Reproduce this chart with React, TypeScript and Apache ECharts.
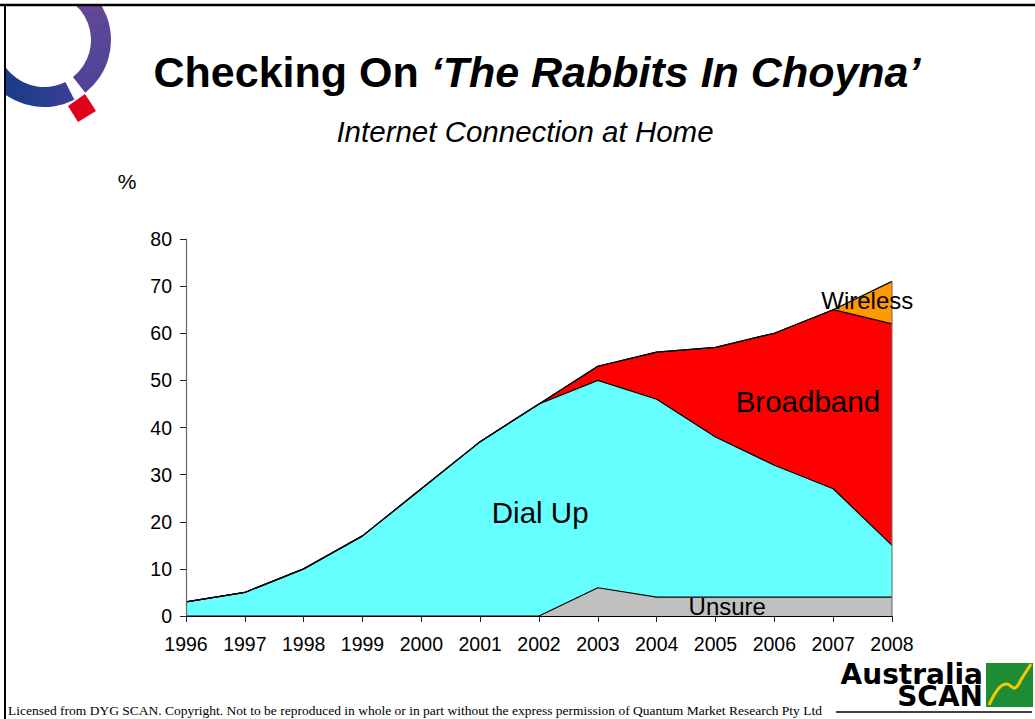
import React, { useEffect, useRef } from "react";
import * as echarts from "echarts";

const years = ["1996", "1997", "1998", "1999", "2000", "2001", "2002", "2003", "2004", "2005", "2006", "2007", "2008"];
const unsure = [0, 0, 0, 0, 0, 0, 0, 6, 4, 4, 4, 4, 4];
const dialUp = [3, 5, 10, 17, 27, 37, 45, 44, 42, 34, 28, 23, 11];
const broadband = [0, 0, 0, 0, 0, 0, 0, 3, 10, 19, 28, 38, 47];
const wireless = [0, 0, 0, 0, 0, 0, 0, 0, 0, 0, 0, 0, 9];
const yTicks = { min: 0, max: 80, interval: 10 };

const FONT = "'Liberation Sans', Arial, Helvetica, sans-serif";

export default function App() {
  const ref = useRef<HTMLDivElement>(null);
  useEffect(() => {
    document.body.style.margin = "0";
    const chart = echarts.init(ref.current!, undefined, { renderer: "svg" });
    const mk = (name: string, data: number[], color: string) => ({
      name,
      type: "line",
      stack: "total",
      data,
      symbol: "none",
      smooth: false,
      lineStyle: { color: "#000", width: 1.2 },
      areaStyle: { color, opacity: 1 },
      z: 2,
    });
    chart.setOption({
      animation: false,
      backgroundColor: "#fff",
      grid: { left: 186, right: 143, top: 239, bottom: 103 },
      xAxis: {
        type: "category",
        data: years,
        boundaryGap: false,
        axisLine: { lineStyle: { color: "#000", width: 1.2 } },
        axisTick: { show: true, length: 6, lineStyle: { color: "#222" } },
        axisLabel: { color: "#000", fontSize: 19.5, fontFamily: FONT, margin: 18 },
        splitLine: { show: false },
        z: 5,
      },
      yAxis: {
        type: "value",
        min: yTicks.min,
        max: yTicks.max,
        interval: yTicks.interval,
        axisLine: { show: true, lineStyle: { color: "#666", width: 1.2 } },
        axisTick: { show: true, length: 6, lineStyle: { color: "#222" } },
        axisLabel: { color: "#000", fontSize: 19.5, fontFamily: FONT, margin: 14 },
        splitLine: { show: false },
        z: 5,
      },
      series: [
        mk("Unsure", unsure, "#c0c0c0"),
        mk("Dial Up", dialUp, "#66ffff"),
        mk("Broadband", broadband, "#ff0000"),
        mk("Wireless", wireless, "#ff9900"),
      ],
    });

    const pxInt = (xi: number, v: number) => chart.convertToPixel({ gridIndex: 0 }, [xi, v]) as number[];
    const px = (xf: number, v: number) => {
      const i0 = Math.floor(xf);
      const i1 = Math.min(i0 + 1, years.length - 1);
      const a = pxInt(i0, v);
      const b = pxInt(i1, v);
      const t = xf - i0;
      return [a[0] + (b[0] - a[0]) * t, a[1]];
    };
    const last = years.length - 1;
    const topLast = unsure[last] + dialUp[last] + broadband[last] + wireless[last];
    const e0 = pxInt(last, 0);
    const e1 = pxInt(last, topLast);
    const lDial = px(6.02, 22);
    const lBroad = px(10.57, 45.6);
    const lWire = px(11.58, 67);
    const lUnsure = px(9.2, 2.1);

    const lbl = (p: number[], text: string, size: number) => ({
      type: "text",
      x: p[0],
      y: p[1],
      style: { text, fontSize: size, fontFamily: FONT, fill: "#000", align: "center", verticalAlign: "middle" },
      z: 20,
    });

    const elements: any[] = [
      // frame
      { type: "line", shape: { x1: 0, y1: 5, x2: 1035, y2: 5 }, style: { stroke: "#000", lineWidth: 2.5 }, z: 10 },
      { type: "line", shape: { x1: 5, y1: 4, x2: 5, y2: 719 }, style: { stroke: "#000", lineWidth: 2 }, z: 10 },
      // Q logo ring
      {
        type: "sector",
        shape: { cx: 44, cy: 40, r0: 47, r: 67, startAngle: (63 * Math.PI) / 180, endAngle: (205 * Math.PI) / 180, clockwise: true },
        style: {
          fill: new echarts.graphic.LinearGradient(1, 0, 0, 0, [
            { offset: 0, color: "#3d3f98" },
            { offset: 0.5, color: "#1f3d8a" },
            { offset: 1, color: "#1a3c86" },
          ]),
        },
        z: 5,
      },
      {
        type: "sector",
        shape: { cx: 44, cy: 40, r0: 47, r: 67, startAngle: (-95 * Math.PI) / 180, endAngle: (52 * Math.PI) / 180, clockwise: true },
        style: {
          fill: new echarts.graphic.LinearGradient(0, 0, 0, 1, [
            { offset: 0, color: "#8a4f8e" },
            { offset: 0.35, color: "#5e4796" },
            { offset: 1, color: "#4e4398" },
          ]),
        },
        z: 5,
      },
      { type: "rect", shape: { x: 0, y: 0, width: 1035, height: 4 }, style: { fill: "#fff" }, z: 6 },
      { type: "rect", shape: { x: 0, y: 0, width: 4, height: 130 }, style: { fill: "#fff" }, z: 6 },
      {
        type: "polygon",
        shape: { points: [[68, 106], [85, 94], [96, 111], [78, 122]] },
        style: { fill: "#e3001b" },
        z: 7,
      },
      // title
      {
        type: "text",
        x: 537,
        y: 72,
        style: {
          text: "{a|Checking On }{b|\u2018The Rabbits In Choyna\u2019}",
          align: "center",
          verticalAlign: "middle",
          rich: {
            a: { fontSize: 43, fontWeight: "bold", fontFamily: FONT, fill: "#000" },
            b: { fontSize: 43, fontWeight: "bold", fontStyle: "italic", fontFamily: FONT, fill: "#000" },
          },
        },
        z: 10,
      },
      {
        type: "text",
        x: 525,
        y: 131,
        style: {
          text: "Internet Connection at Home",
          fontSize: 29.5,
          fontStyle: "italic",
          fontFamily: FONT,
          fill: "#000",
          align: "center",
          verticalAlign: "middle",
        },
        z: 10,
      },
      {
        type: "text",
        x: 127,
        y: 181,
        style: { text: "%", fontSize: 21, fontFamily: FONT, fill: "#000", align: "center", verticalAlign: "middle" },
      },
      // right edge of stacked area
      { type: "line", shape: { x1: e0[0], y1: e0[1], x2: e1[0], y2: e1[1] }, style: { stroke: "#777", lineWidth: 1.2 }, z: 20 },
      // series labels
      lbl(lDial, "Dial Up", 29.5),
      lbl(lBroad, "Broadband", 29.5),
      lbl(lWire, "Wireless", 24),
      lbl(lUnsure, "Unsure", 24),
      // footer
      {
        type: "text",
        x: 8,
        y: 710,
        style: {
          text: "Licensed from DYG SCAN. Copyright. Not to be reproduced in whole or in part without the express permission of Quantum Market Research Pty Ltd",
          fontSize: 13.5,
          fontFamily: "'Liberation Serif', 'Times New Roman', serif",
          fill: "#000",
          align: "left",
          verticalAlign: "middle",
        },
        z: 10,
      },
      // Australia SCAN logo
      {
        type: "text",
        x: 983,
        y: 685,
        style: {
          text: "Australia\nSCAN",
          fontSize: 28,
          lineHeight: 22,
          fontWeight: "bold",
          fontFamily: "'DejaVu Sans', sans-serif",
          fill: "#000",
          align: "right",
          verticalAlign: "middle",
        },
        z: 10,
      },
      { type: "rect", shape: { x: 986, y: 663, width: 47, height: 44 }, style: { fill: "#1e8c32" }, z: 10 },
      {
        type: "polyline",
        shape: { points: [[989, 705], [999, 688], [1007, 684], [1015, 688], [1022, 678], [1031, 664]], smooth: 0.4 },
        style: { stroke: "#f5c800", lineWidth: 3, fill: "none" },
        z: 11,
      },
      { type: "line", shape: { x1: 836, y1: 712, x2: 1032, y2: 712 }, style: { stroke: "#000", lineWidth: 1.5 }, z: 10 },
    ];
    chart.setOption({ graphic: { elements } });
    return () => chart.dispose();
  }, []);
  return <div ref={ref} style={{ width: 1035, height: 719 }} />;
}
